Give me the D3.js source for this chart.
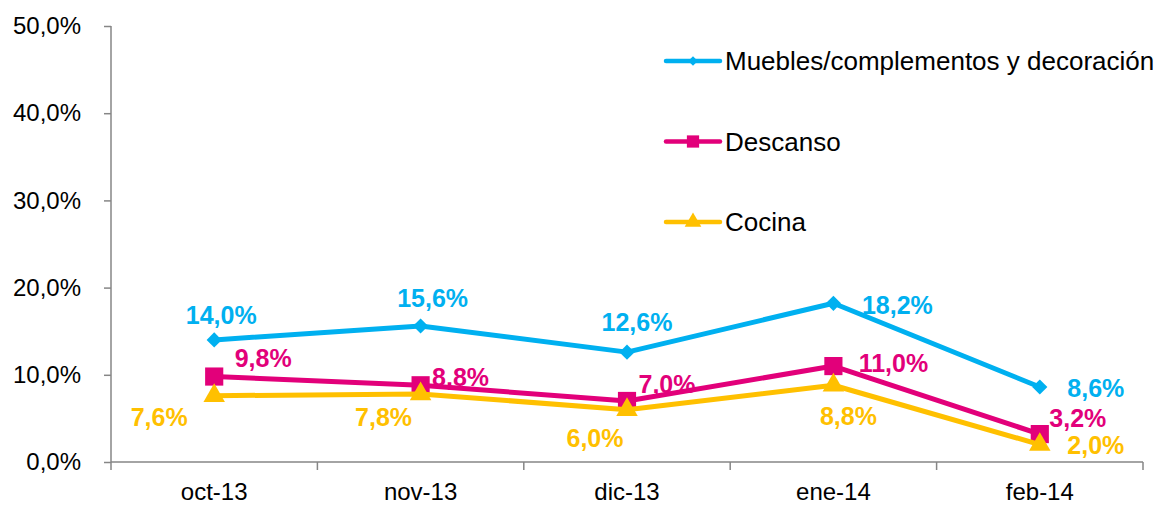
<!DOCTYPE html>
<html>
<head>
<meta charset="utf-8">
<script src="https://cdn.jsdelivr.net/npm/d3@7"></script>
<style>
  body { margin: 0; background: #fff; }
  text { font-family: "Liberation Sans", Arial, sans-serif; }
</style>
</head>
<body>
<div id="chart"></div>
<script>
var categories = ["oct-13", "nov-13", "dic-13", "ene-14", "feb-14"];
var seriesNames = ["Muebles/complementos y decoración", "Descanso", "Cocina"];
var muebles = [14.0, 15.6, 12.6, 18.2, 8.6];
var descanso = [9.8, 8.8, 7.0, 11.0, 3.2];
var cocina = [7.6, 7.8, 6.0, 8.8, 2.0];
var yTicks = [0, 10, 20, 30, 40, 50];

// data label nudges from each point (label centre), px
var labelOffset = [
    [[7, -25], [12, -28], [10, -30], [64, 2], [56, 1]],
    [[49, -19], [40, -8], [40, -17], [60, -3], [38, -16]],
    [[-55, 21], [-37, 23], [-32, 28], [15, 31], [56, 0]]
];

var width = 1168, height = 506;
var margin = {left: 111, right: 25, top: 26, bottom: 44};
var colors = ["#00B0F0", "#E2007A", "#FFC000"];
var symbols = [
    {type: d3.symbolSquare, size: 115, rot: 45},
    {type: d3.symbolSquare, size: 330, rot: 0},
    {type: d3.symbolTriangle, size: 200, rot: 0}
];
var legendSymSize = [45, 150, 120];

var fmt = function(v) { return v.toFixed(1).replace(".", ",") + "%"; };

var svg = d3.select("#chart").append("svg")
    .attr("width", width)
    .attr("height", height);

var x = d3.scaleBand()
    .domain(categories)
    .range([margin.left, width - margin.right]);

var y = d3.scaleLinear()
    .domain([0, 50])
    .range([height - margin.bottom, margin.top]);

// y axis
var yAxis = d3.axisLeft(y)
    .tickValues(yTicks)
    .tickSize(7)
    .tickPadding(23)
    .tickFormat(fmt);

var gY = svg.append("g")
    .attr("transform", "translate(" + margin.left + ",0)")
    .call(yAxis);
gY.select(".domain").attr("stroke", "#868686").attr("stroke-width", 1.5).attr("d", "M0," + y(0) + "V" + y(50));
gY.selectAll(".tick line").attr("stroke", "#868686").attr("stroke-width", 1.5);
gY.selectAll(".tick text").attr("font-size", 24).attr("fill", "#000").attr("font-family", null);

// x axis
var xAxis = d3.axisBottom(x).tickSize(0).tickPadding(21);
var gX = svg.append("g")
    .attr("transform", "translate(0," + y(0) + ")")
    .call(xAxis);
gX.select(".domain").attr("stroke", "#868686").attr("stroke-width", 1.5)
    .attr("d", "M" + margin.left + ",0H" + (width - margin.right));
gX.selectAll(".tick text").attr("font-size", 24).attr("fill", "#000").attr("dy", "0.71em");

// category separator ticks
var edges = categories.map(function(c) { return x(c); }).concat([x.range()[1]]);
gX.selectAll(".sep").data(edges).enter().append("line")
    .attr("class", "sep")
    .attr("x1", function(d) { return d; })
    .attr("x2", function(d) { return d; })
    .attr("y1", 0).attr("y2", 8)
    .attr("stroke", "#868686").attr("stroke-width", 1.5);
svg.selectAll("g text").attr("font-family", null);

var cx = function(c) { return x(c) + x.bandwidth() / 2; };

var allSeries = [muebles, descanso, cocina];

var line = d3.line()
    .x(function(d, i) { return cx(categories[i]); })
    .y(function(d) { return y(d); });

allSeries.forEach(function(vals, s) {
    var g = svg.append("g");
    g.append("path")
        .datum(vals)
        .attr("d", line)
        .attr("fill", "none")
        .attr("stroke", colors[s])
        .attr("stroke-width", 5)
        .attr("stroke-linejoin", "round");

    g.selectAll(".mark").data(vals).enter().append("path")
        .attr("class", "mark")
        .attr("transform", function(d, i) {
            return "translate(" + cx(categories[i]) + "," + y(d) + ") rotate(" + symbols[s].rot + ")";
        })
        .attr("d", d3.symbol().type(symbols[s].type).size(symbols[s].size))
        .attr("fill", colors[s]);

    g.selectAll(".lbl").data(vals).enter().append("text")
        .attr("class", "lbl")
        .attr("font-size", 25)
        .attr("font-weight", "bold")
        .attr("fill", colors[s])
        .attr("text-anchor", "middle")
        .attr("dominant-baseline", "central")
        .attr("x", function(d, i) { return cx(categories[i]) + labelOffset[s][i][0]; })
        .attr("y", function(d, i) { return y(d) + labelOffset[s][i][1]; })
        .text(fmt);
});

// legend
var legend = svg.append("g");
seriesNames.forEach(function(name, s) {
    var ly = 61 + s * 80.5;
    var lg = legend.append("g").attr("transform", "translate(666," + ly + ")");
    lg.append("line")
        .attr("x1", 0).attr("x2", 54)
        .attr("stroke", colors[s]).attr("stroke-width", 4.5).attr("stroke-linecap", "round");
    lg.append("path")
        .attr("transform", "translate(27,0) rotate(" + symbols[s].rot + ")")
        .attr("d", d3.symbol().type(symbols[s].type).size(legendSymSize[s]))
        .attr("fill", colors[s]);
    lg.append("text")
        .attr("x", 59)
        .attr("dominant-baseline", "central")
        .attr("font-size", 26)
        .attr("fill", "#000")
        .text(name);
});
</script>
</body>
</html>
